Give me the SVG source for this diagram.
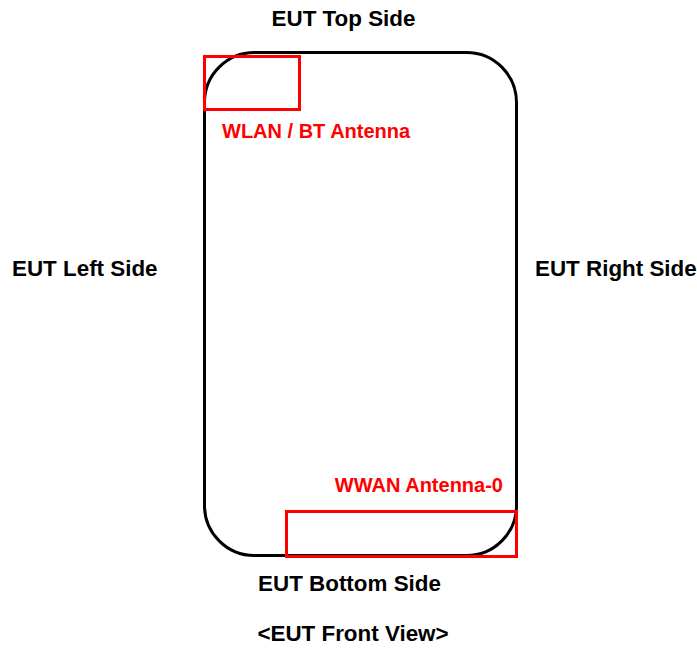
<svg xmlns="http://www.w3.org/2000/svg" width="697" height="648" viewBox="0 0 697 648">
<style>
.lbl{font-family:"Liberation Sans",Arial,sans-serif;font-weight:bold;font-size:22.4px;fill:#000}
.ant{font-family:"Liberation Sans",Arial,sans-serif;font-weight:bold;font-size:20px;fill:#ff0000}
.box{fill:none;stroke:#ff0000;stroke-width:3}
</style>
<rect width="697" height="648" fill="#fff"/>
<g id="eut">
<rect x="204.5" y="52.5" width="312" height="503" rx="50" ry="50" fill="none" stroke="#000" stroke-width="3"/>
</g>
<g id="wlan-bt-antenna">
<rect class="box" x="204.5" y="56.5" width="95" height="53"/>
<text class="ant" x="222" y="138">WLAN / BT Antenna</text>
</g>
<g id="wwan-antenna-0">
<rect class="box" x="286.5" y="511.5" width="230" height="45"/>
<text class="ant" x="503" y="492" text-anchor="end">WWAN Antenna-0</text>
</g>
<g id="labels">
<text class="lbl" x="343.5" y="26" text-anchor="middle">EUT Top Side</text>
<text class="lbl" x="12" y="276">EUT Left Side</text>
<text class="lbl" x="535" y="276">EUT Right Side</text>
<text class="lbl" x="349.5" y="591" text-anchor="middle">EUT Bottom Side</text>
<text class="lbl" x="353" y="641" text-anchor="middle">&lt;EUT Front View&gt;</text>
</g>
</svg>
